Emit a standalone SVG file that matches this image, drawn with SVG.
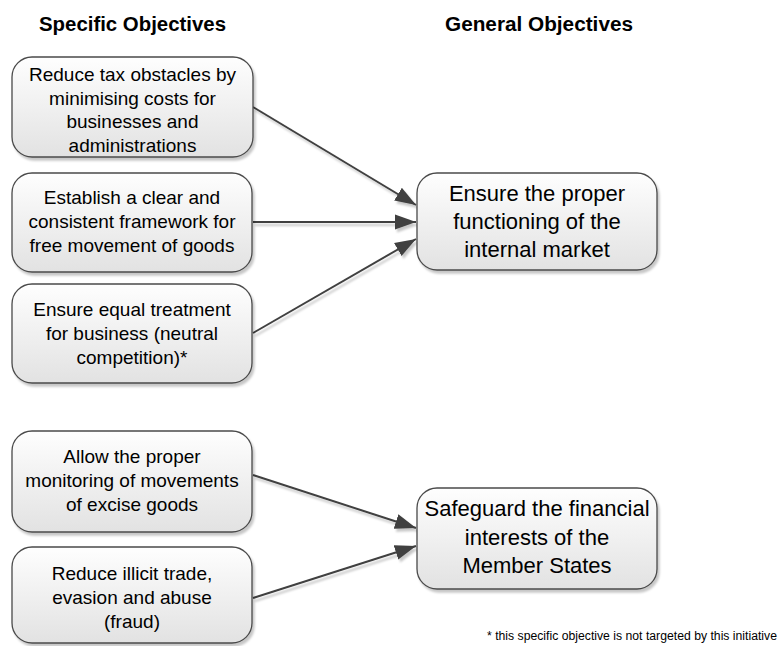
<svg xmlns="http://www.w3.org/2000/svg" width="779" height="646" viewBox="0 0 779 646">
<defs>
<linearGradient id="g" x1="0" y1="0" x2="0" y2="1">
<stop offset="0" stop-color="#fefefe"/>
<stop offset="1" stop-color="#e2e2e2"/>
</linearGradient>
<filter id="sh" x="-10%" y="-10%" width="125%" height="130%">
<feDropShadow dx="2" dy="3" stdDeviation="1.2" flood-color="#000" flood-opacity="0.22"/>
</filter>
<marker id="ah" markerUnits="userSpaceOnUse" markerWidth="22" markerHeight="16" refX="21" refY="8" orient="auto">
<path d="M0,0.5 L21,8 L0,15.5 z" fill="#404040"/>
</marker>
</defs>
<style>
.box{fill:url(#g);stroke:#4a4a4a;stroke-width:1.3;filter:url(#sh)}
.t{font-family:"Liberation Sans",Arial,sans-serif;font-size:19px;fill:#000;text-anchor:middle}
.tg{font-family:"Liberation Sans",Arial,sans-serif;font-size:22px;fill:#000;text-anchor:middle}
.h{font-family:"Liberation Sans",Arial,sans-serif;font-size:20px;font-weight:bold;fill:#000}
.c{stroke:#404040;stroke-width:2;fill:none;marker-end:url(#ah)}
</style>
<text class="h" x="39" y="31" textLength="187" lengthAdjust="spacingAndGlyphs">Specific Objectives</text>
<text class="h" x="445" y="31" textLength="188" lengthAdjust="spacingAndGlyphs">General Objectives</text>

<g id="connectors" filter="url(#sh)">
<line class="c" x1="253" y1="107" x2="416" y2="205"/>
<line class="c" x1="253" y1="222" x2="416" y2="222"/>
<line class="c" x1="253" y1="333" x2="416" y2="239"/>
<line class="c" x1="253" y1="475" x2="416" y2="528"/>
<line class="c" x1="253" y1="598" x2="416" y2="546"/>
</g>

<g id="s1">
<rect class="box" x="12" y="57" width="241" height="100" rx="20"/>
<text class="t" x="132.5"><tspan x="132.5" y="81">Reduce tax obstacles by</tspan><tspan x="132.5" y="104.5">minimising costs for</tspan><tspan x="132.5" y="128">businesses and</tspan><tspan x="132.5" y="151.5">administrations</tspan></text>
</g>
<g id="s2">
<rect class="box" x="12" y="173" width="240" height="99" rx="20"/>
<text class="t"><tspan x="132" y="203.5">Establish a clear and</tspan><tspan x="132" y="227.5">consistent framework for</tspan><tspan x="132" y="251.5">free movement of goods</tspan></text>
</g>
<g id="s3">
<rect class="box" x="12" y="284" width="240" height="99" rx="20"/>
<text class="t"><tspan x="132" y="316">Ensure equal treatment</tspan><tspan x="132" y="340">for business (neutral</tspan><tspan x="132" y="364">competition)*</tspan></text>
</g>
<g id="s4">
<rect class="box" x="12" y="431" width="240" height="101" rx="20"/>
<text class="t"><tspan x="132" y="463">Allow the proper</tspan><tspan x="132" y="487">monitoring of movements</tspan><tspan x="132" y="511">of excise goods</tspan></text>
</g>
<g id="s5">
<rect class="box" x="12" y="547" width="240" height="96" rx="20"/>
<text class="t"><tspan x="132" y="580">Reduce illicit trade,</tspan><tspan x="132" y="604">evasion and abuse</tspan><tspan x="132" y="627.5">(fraud)</tspan></text>
</g>
<g id="g1">
<rect class="box" x="417" y="173" width="240" height="97" rx="20"/>
<text class="tg"><tspan x="537" y="201">Ensure the proper</tspan><tspan x="537" y="228.5">functioning of the</tspan><tspan x="537" y="256.5">internal market</tspan></text>
</g>
<g id="g2">
<rect class="box" x="417" y="488" width="240" height="101" rx="20"/>
<text class="tg"><tspan x="537" y="516">Safeguard the financial</tspan><tspan x="537" y="544.5">interests of the</tspan><tspan x="537" y="573">Member States</tspan></text>
</g>
<text x="487" y="640" font-family="Liberation Sans, Arial, sans-serif" font-size="12.3" fill="#000" textLength="290" lengthAdjust="spacingAndGlyphs">* this specific objective is not targeted by this initiative</text>
</svg>
